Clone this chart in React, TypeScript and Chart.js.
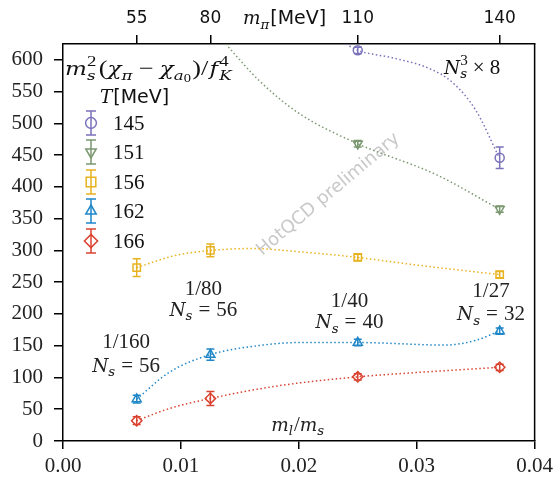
import React, { useEffect, useRef } from 'react';
import { Chart, registerables } from 'chart.js';

Chart.register(...registerables);

// ---------- data ----------
const mlms = [1 / 160, 1 / 80, 1 / 40, 1 / 27];
const mpiLabels = ['55', '80', '110', '140'];
const xTicks = [0, 0.01, 0.02, 0.03, 0.04];
const yTicks = [0, 50, 100, 150, 200, 250, 300, 350, 400, 450, 500, 550, 600];
const temps = ['145', '151', '156', '162', '166'];
const colors = ['#7a72ba', '#7b9870', '#e8b320', '#1f87c8', '#db4331'];
const pointStyles = ['circle', 'triangle', 'rect', 'triangle', 'rectRot'];
const rotations = [0, 180, 0, 0, 0];

const val145 = [null, null, 615, 446];
const err145 = [0, 0, 5, 17];
const val151 = [null, null, 468, 365];
const err151 = [0, 0, 5, 5];
const val156 = [273, 300, 289, 262];
const err156 = [14, 10, 5, 5];
const val162 = [66, 136, 155, 173];
const err162 = [6, 9, 5, 5];
const val166 = [32, 67, 101, 116];
const err166 = [6, 11, 5, 5];

// fit curves (dotted)
const fitX145 = [0.024, 0.025, 0.028, 0.031, 0.033, 0.035, 0.037];
const fitY145 = [625, 615, 603, 587, 565, 521, 446];
const fitX151 = [0.0138, 0.0166, 0.02, 0.025, 0.0317, 0.037];
const fitY151 = [625, 568, 516, 468, 419, 365];
const fitX156 = [0.00625, 0.0095, 0.0125, 0.016, 0.02, 0.025, 0.03, 0.037];
const fitY156 = [273, 292, 300, 303, 298, 289, 277, 262];
const fitX162 = [0.00625, 0.009, 0.0125, 0.0165, 0.02, 0.025, 0.0324, 0.0351, 0.037];
const fitY162 = [66, 108, 136, 150, 155, 155, 151, 159, 173];
const fitX166 = [0.00625, 0.009, 0.0125, 0.0183, 0.025, 0.031, 0.037];
const fitY166 = [32, 51, 67, 87, 101, 109, 116];

const values = [val145, val151, val156, val162, val166];
const errors = [err145, err151, err156, err162, err166];
const fitXs = [fitX145, fitX151, fitX156, fitX162, fitX166];
const fitYs = [fitY145, fitY151, fitY156, fitY162, fitY166];

// annotation texts placed in data coordinates (x center, baseline y)
const annX = [0.00535, 0.0119, 0.0243, 0.0363];
const annTop = ['1/160', '1/80', '1/40', '1/27'];
const annBottom = ['56', '56', '40', '32'];
const annTopY = [146, 230, 211, 227];
const annBotY = [109, 197, 178, 190];

const SERIF = "'Liberation Serif', serif";
const ITAL = "'DejaVu Serif', serif";
const SANS = "'DejaVu Sans', sans-serif";

type Seg = { t: string; i?: boolean; l?: number; na?: boolean; sans?: boolean; pl?: number; pr?: number; fs?: number };

function segFont(s: Seg, size: number) {
  const base = s.fs || (s.i ? size * 0.88 : size);
  const lvl = s.l || 0;
  const sz = lvl === 0 ? base : lvl === -2 ? base * 0.55 : base * 0.72;
  return {
    font: `${s.i ? 'italic ' : ''}${sz}px ${s.sans ? SANS : s.i ? ITAL : SERIF}`,
    dy: lvl === 1 ? -0.42 * size : lvl === -1 ? 0.22 * size : lvl === -2 ? 0.34 * size : 0,
  };
}

function drawMath(
  ctx: CanvasRenderingContext2D,
  segs: Seg[],
  x: number,
  y: number,
  size: number,
  align: 'left' | 'center',
  color = '#222',
  fitW = 0
) {
  const run = (draw: boolean, ox: number) => {
    let cx = ox;
    let pending = 0;
    for (const s of segs) {
      const f = segFont(s, size);
      ctx.font = f.font;
      cx += s.pl || 0;
      const w = ctx.measureText(s.t).width;
      if (draw) ctx.fillText(s.t, cx, y + f.dy);
      if (s.na) {
        pending = w;
      } else {
        cx += Math.max(w, pending) + (s.pr || 0);
        pending = 0;
      }
    }
    return cx - ox;
  };
  ctx.save();
  ctx.fillStyle = color;
  ctx.textAlign = 'left';
  ctx.textBaseline = 'alphabetic';
  const total = run(false, 0);
  if (fitW > 0 && total > 0) {
    const k = Math.min(1.25, Math.max(0.8, fitW / total));
    ctx.translate(x, 0);
    ctx.scale(k, 1);
    run(true, align === 'center' ? -total / 2 : 0);
  } else {
    const sx = align === 'center' ? x - total / 2 : x;
    run(true, sx);
  }
  ctx.restore();
}

function drawPointLocal(ctx: CanvasRenderingContext2D, style: string, r: number, x: number, y: number, rotDeg: number) {
  ctx.save();
  ctx.translate(x, y);
  ctx.rotate((rotDeg * Math.PI) / 180);
  ctx.beginPath();
  if (style === 'circle') {
    ctx.arc(0, 0, r * 0.9, 0, Math.PI * 2);
  } else if (style === 'triangle') {
    ctx.moveTo(0, -r);
    ctx.lineTo(r * 0.87, r * 0.5);
    ctx.lineTo(-r * 0.87, r * 0.5);
    ctx.closePath();
  } else if (style === 'rect') {
    const s = r * 0.8;
    ctx.rect(-s, -s, 2 * s, 2 * s);
  } else if (style === 'rectRot') {
    ctx.moveTo(0, -r * 1.1);
    ctx.lineTo(r * 1.1, 0);
    ctx.lineTo(0, r * 1.1);
    ctx.lineTo(-r * 1.1, 0);
    ctx.closePath();
  }
  ctx.stroke();
  ctx.restore();
}

const errorBarPlugin = {
  id: 'errorBars',
  afterDatasetsDraw(chart: any) {
    const ctx = chart.ctx;
    const yScale = chart.scales.y;
    chart.data.datasets.forEach((ds: any, di: number) => {
      if (!ds.errs) return;
      const meta = chart.getDatasetMeta(di);
      ctx.save();
      ctx.strokeStyle = ds.borderColor;
      ctx.lineWidth = 1.5;
      meta.data.forEach((pt: any, i: number) => {
        const v = ds.data[i].y;
        if (v == null) return;
        const e = ds.errs[i];
        const px = pt.x;
        const y1 = yScale.getPixelForValue(v - e);
        const y2 = yScale.getPixelForValue(v + e);
        ctx.beginPath();
        ctx.moveTo(px, y1);
        ctx.lineTo(px, y2);
        ctx.moveTo(px - 4, y1);
        ctx.lineTo(px + 4, y1);
        ctx.moveTo(px - 4, y2);
        ctx.lineTo(px + 4, y2);
        ctx.stroke();
      });
      ctx.restore();
    });
  },
};

const decorPlugin = {
  id: 'decor',
  beforeDatasetsDraw(chart: any) {
    const ctx = chart.ctx;
    const xs = chart.scales.x;
    const ys = chart.scales.y;
    // watermark
    ctx.save();
    ctx.translate(xs.getPixelForValue(0.0225), ys.getPixelForValue(388));
    ctx.rotate((-40 * Math.PI) / 180);
    ctx.font = `18px ${SANS}`;
    ctx.fillStyle = '#c9c9c9';
    ctx.textAlign = 'center';
    ctx.textBaseline = 'middle';
    ctx.fillText('HotQCD preliminary', 0, 0);
    ctx.restore();
  },
  afterDraw(chart: any) {
    const ctx = chart.ctx;
    const a = chart.chartArea;
    const xs = chart.scales.x;
    const ys = chart.scales.y;
    // right spine
    ctx.save();
    ctx.strokeStyle = '#000';
    ctx.lineWidth = 1.5;
    ctx.beginPath();
    ctx.moveTo(a.right, a.top);
    ctx.lineTo(a.right, a.bottom);
    ctx.stroke();
    ctx.restore();

    // top axis title
    drawMath(ctx, [{ t: 'm', i: true }, { t: 'π', i: true, l: -1, pr: 1 }, { t: '[MeV]', sans: true, fs: 19 }], 243, 24, 21, 'left', '#111');

    // legend title
    drawMath(
      ctx,
      [
        { t: 'm', i: true },
        { t: '2', l: 1, na: true },
        { t: 's', i: true, l: -1, pr: 1 },
        { t: '(', pl: 1 },
        { t: 'χ', i: true },
        { t: 'π', i: true, l: -1 },
        { t: '−', pl: 5, pr: 5 },
        { t: 'χ', i: true },
        { t: 'a', i: true, l: -1 },
        { t: '0', l: -2, pl: 0 },
        { t: ')', pl: 1 },
        { t: '/' },
        { t: 'f', i: true, pl: 1 },
        { t: '4', l: 1, na: true, pl: 1 },
        { t: 'K', i: true, l: -1 },
      ],
      a.left + 2,
      75,
      21,
      'left',
      '#111',
      175
    );
    drawMath(ctx, [{ t: 'T', i: true, pr: 1 }, { t: '[MeV]', sans: true, fs: 19 }], a.left + 37, 103, 21, 'left', '#111');

    // legend entries
    const rows = [123, 152, 182, 211, 241];
    temps.forEach((t, i) => {
      const cx = a.left + 28;
      const cy = rows[i];
      ctx.save();
      ctx.strokeStyle = colors[i];
      ctx.lineWidth = 1.5;
      ctx.beginPath();
      ctx.moveTo(cx, cy - 12);
      ctx.lineTo(cx, cy + 12);
      ctx.moveTo(cx - 5, cy - 12);
      ctx.lineTo(cx + 5, cy - 12);
      ctx.moveTo(cx - 5, cy + 12);
      ctx.lineTo(cx + 5, cy + 12);
      ctx.stroke();
      ctx.restore();
      ctx.save();
      ctx.strokeStyle = colors[i];
      ctx.lineWidth = 1.5;
      drawPointLocal(ctx, pointStyles[i], 6, cx, cy, rotations[i]);
      ctx.restore();
      drawMath(ctx, [{ t }], a.left + 50, cy + 7, 21, 'left', '#111');
    });

    // N_s^3 x 8
    drawMath(
      ctx,
      [{ t: 'N', i: true }, { t: '3', l: 1, na: true }, { t: 's', i: true, l: -1 }, { t: '×', pl: 5, pr: 5 }, { t: '8' }],
      xs.getPixelForValue(0.0347),
      ys.getPixelForValue(578),
      21,
      'center',
      '#111'
    );

    // lattice annotations
    annTop.forEach((s, i) => {
      drawMath(ctx, [{ t: s }], xs.getPixelForValue(annX[i]), ys.getPixelForValue(annTopY[i]), 21, 'center', '#222');
      drawMath(
        ctx,
        [{ t: 'N', i: true }, { t: 's', i: true, l: -1 }, { t: '=', pl: 6, pr: 6 }, { t: annBottom[i] }],
        xs.getPixelForValue(annX[i]),
        ys.getPixelForValue(annBotY[i]),
        21,
        'center',
        '#222'
      );
    });

    // m_l/m_s
    drawMath(
      ctx,
      [{ t: 'm', i: true }, { t: 'l', i: true, l: -1, pr: 1 }, { t: '/' }, { t: 'm', i: true }, { t: 's', i: true, l: -1 }],
      xs.getPixelForValue(0.0199),
      ys.getPixelForValue(16),
      21,
      'center',
      '#222'
    );
  },
};

export default function App() {
  const ref = useRef<HTMLCanvasElement>(null);
  useEffect(() => {
    if (!ref.current) return;
    const datasets: any[] = [];
    temps.forEach((t, i) => {
      datasets.push({
        label: 'fit ' + t,
        data: fitXs[i].map((x, k) => ({ x, y: fitYs[i][k] })),
        showLine: true,
        borderColor: colors[i],
        borderWidth: 1.5,
        borderDash: [1.5, 2.5],
        pointRadius: 0,
        cubicInterpolationMode: 'monotone',
        fill: false,
        order: 2,
      });
    });
    temps.forEach((t, i) => {
      datasets.push({
        label: t,
        data: mlms.map((x, k) => ({ x, y: values[i][k] })),
        errs: errors[i],
        showLine: false,
        borderColor: colors[i],
        backgroundColor: 'rgba(255,255,255,0)',
        pointStyle: pointStyles[i],
        pointRotation: rotations[i],
        pointRadius: pointStyles[i] === 'circle' ? 4.5 : 5.2,
        pointBorderWidth: 1.5,
        order: 1,
      });
    });
    const serifFont = { family: SERIF, size: 21 };
    const chart = new Chart(ref.current, {
      type: 'scatter',
      data: { datasets },
      options: {
        animation: false,
        responsive: false,
        layout: { padding: { left: 0, right: 21, top: 0, bottom: 0 } },
        plugins: { legend: { display: false }, tooltip: { enabled: false } },
        scales: {
          x: {
            type: 'linear',
            position: 'bottom',
            min: 0,
            max: 0.04,
            afterBuildTicks: (s: any) => {
              s.ticks = xTicks.map((v) => ({ value: v }));
            },
            afterFit: (s: any) => {
              s.height = 38;
            },
            ticks: {
              callback: (v: any) => Number(v).toFixed(2),
              font: serifFont,
              color: '#222',
              padding: 5,
              maxRotation: 0,
            },
            grid: { drawOnChartArea: false, tickLength: 8, color: '#000', lineWidth: 1.5 },
            border: { display: true, color: '#000', width: 1.5 },
          },
          x2: {
            type: 'linear',
            position: 'top',
            min: 0,
            max: 0.04,
            afterBuildTicks: (s: any) => {
              s.ticks = mlms.map((v) => ({ value: v }));
            },
            afterFit: (s: any) => {
              s.height = 44;
            },
            ticks: {
              callback: (_v: any, idx: number) => mpiLabels[idx],
              font: { family: SANS, size: 17 },
              color: '#111',
              padding: 6,
              maxRotation: 0,
              autoSkip: false,
            },
            grid: { drawOnChartArea: false, tickLength: 9, color: '#000', lineWidth: 1.5 },
            border: { display: true, color: '#000', width: 1.5 },
          },
          y: {
            type: 'linear',
            min: 0,
            max: 625,
            afterBuildTicks: (s: any) => {
              s.ticks = yTicks.map((v) => ({ value: v }));
            },
            afterFit: (s: any) => {
              s.width = 63;
            },
            ticks: {
              font: serifFont,
              color: '#222',
              padding: 11,
            },
            grid: { drawOnChartArea: false, tickLength: 9, color: '#000', lineWidth: 1.5 },
            border: { display: true, color: '#000', width: 1.5 },
          },
        },
      },
      plugins: [decorPlugin, errorBarPlugin],
    } as any);
    return () => chart.destroy();
  }, []);
  return (
    <div style={{ position: 'absolute', left: 0, top: 0, width: 558, height: 479, background: '#fff' }}>
      <canvas ref={ref} width={558} height={479} style={{ width: 558, height: 479, display: 'block' }} />
    </div>
  );
}
